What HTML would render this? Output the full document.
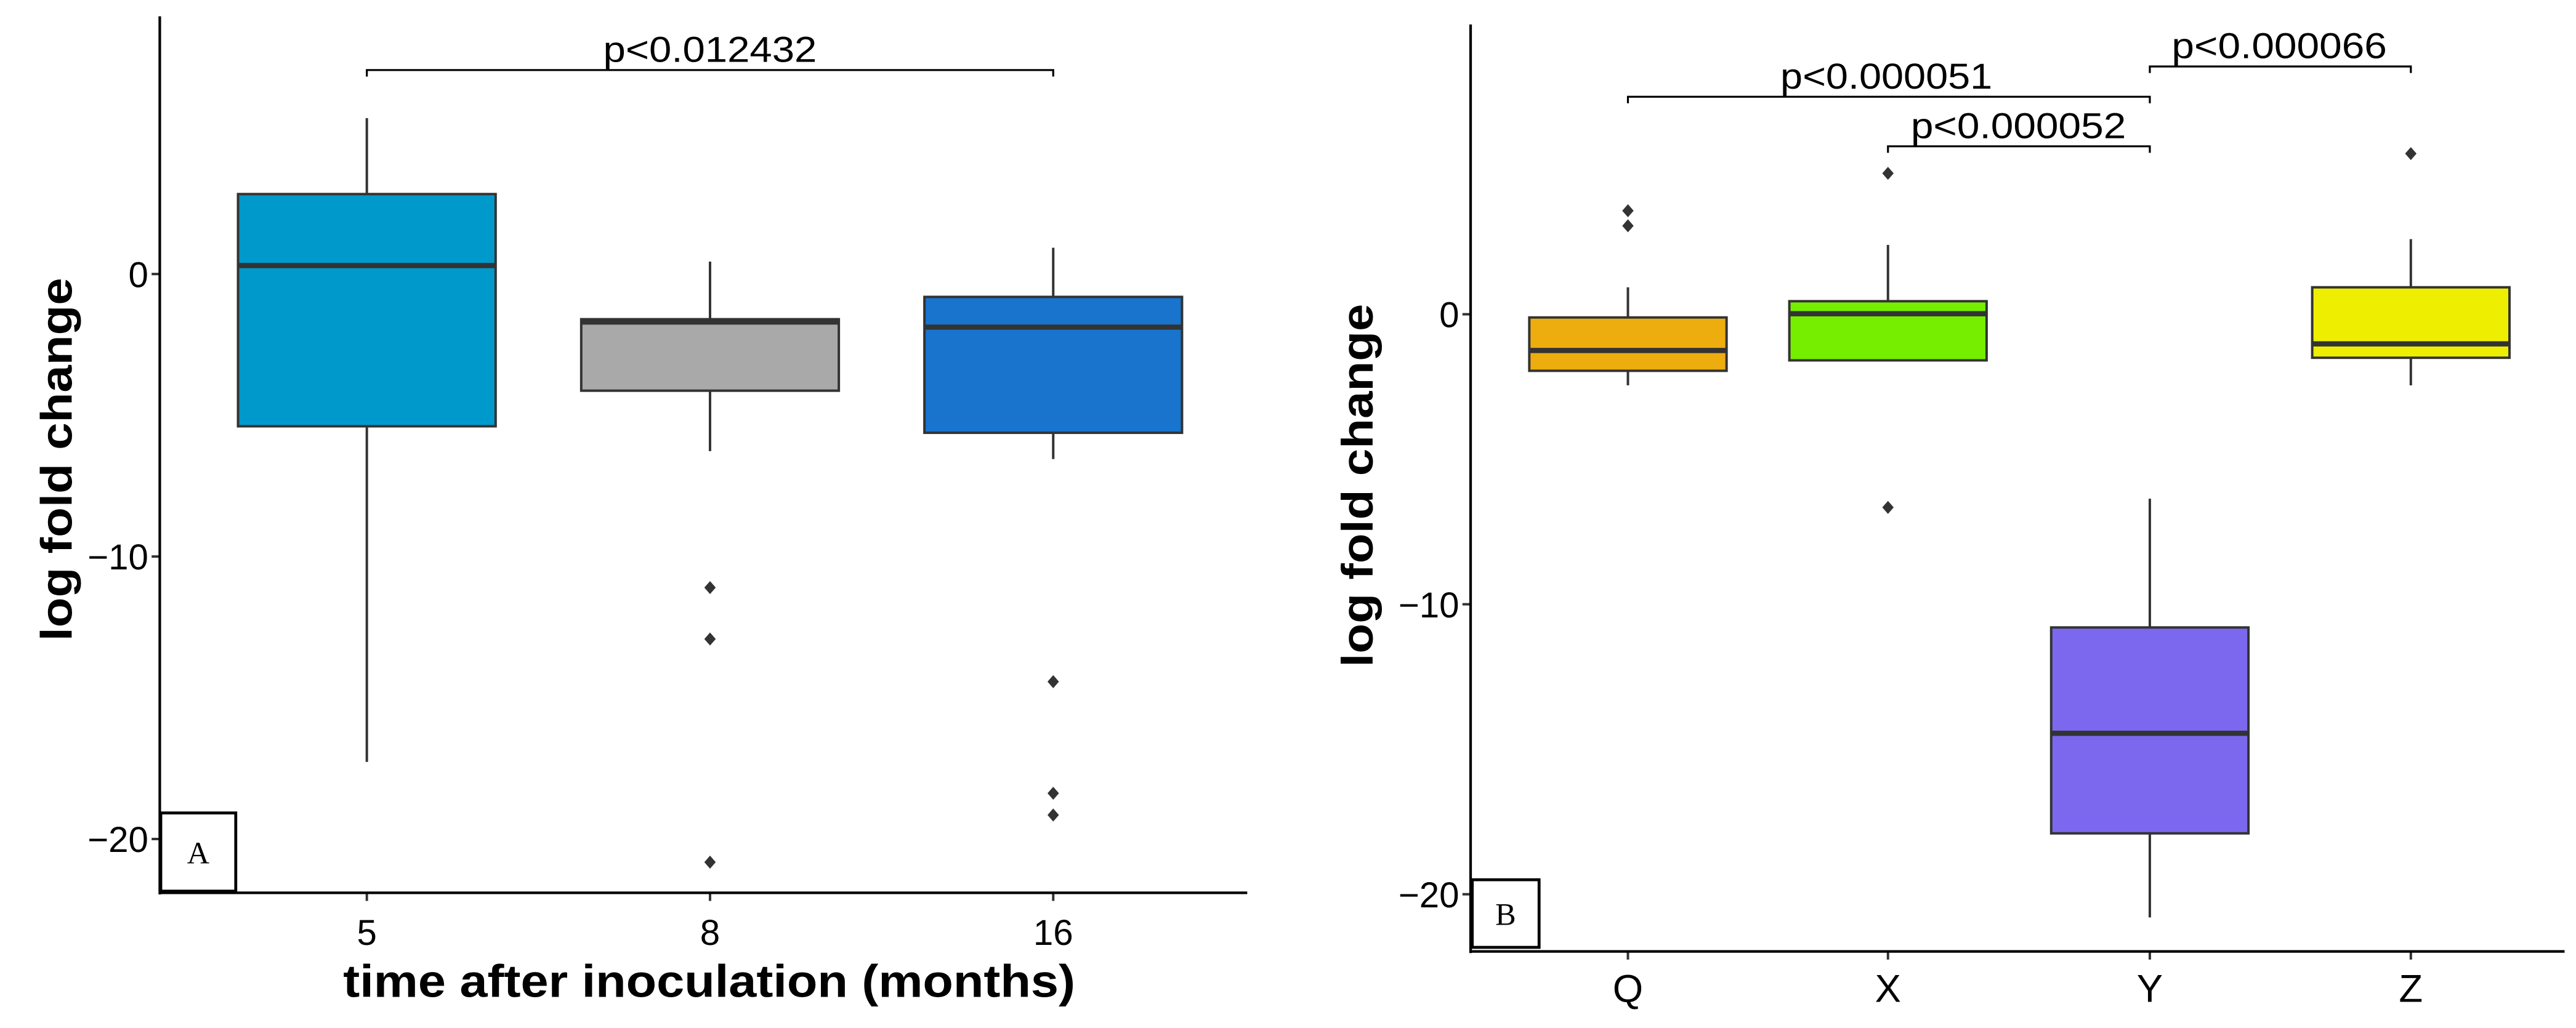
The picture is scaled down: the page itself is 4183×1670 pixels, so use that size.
<!DOCTYPE html>
<html><head><meta charset="utf-8"><style>
html,body{margin:0;padding:0;background:#fff;}
svg{display:block;}
text{font-family:"Liberation Sans",Arial,sans-serif;fill:#000;}
</style></head><body>
<svg id="fig" width="4183" height="1670" viewBox="0 0 1580 631" preserveAspectRatio="none" xmlns="http://www.w3.org/2000/svg"></svg>
<script>
// Panel A data
const catsA = ["5","8","16"];
const wLoA = [-17.27,-6.27,-6.55];
const q1A = [-5.39,-4.13,-5.62];
const medA = [0.3,-1.7,-1.88];
const q3A = [2.83,-1.6,-0.81];
const wHiA = [5.52,0.44,0.93];
const outA = [[],[-11.1,-12.92,-20.82],[-14.43,-18.38,-19.15]];
const colA = ["#0099CC","#A9A9A9","#1874CD"];
const ticksA = [0,-10,-20];
// Panel B data
const catsB = ["Q","X","Y","Z"];
const wLoB = [-2.45,-1.59,-20.8,-2.45];
const q1B = [-1.95,-1.59,-17.9,-1.5];
const medB = [-1.25,0.02,-14.45,-1.02];
const q3B = [-0.11,0.45,-10.8,0.93];
const wHiB = [0.93,2.39,-6.36,2.59];
const outB = [[3.57,3.05],[4.86,-6.66],[],[5.54]];
const colB = ["#EEAD0E","#76EE00","#7B68EE","#EEEE00"];
const ticksB = [0,-10,-20];

const NS="http://www.w3.org/2000/svg";
const svg=document.getElementById('fig');
function mk(tag,attrs,parent){const e=document.createElementNS(NS,tag);for(const k in attrs)e.setAttribute(k,attrs[k]);(parent||svg).appendChild(e);return e;}

function panel(p){
  const g=mk('g',{});
  
  
  const y=v=>p.y0-v*p.ppu;
  const x=i=>p.cx[i];
  p.cats.forEach((c,i)=>{
    const bg=mk('g',{},g);
    
    
    mk('line',{x1:x(i),x2:x(i),y1:y(p.wHi[i]),y2:y(p.q3[i]),stroke:'#333','stroke-width':1.5},bg);
    mk('line',{x1:x(i),x2:x(i),y1:y(p.q1[i]),y2:y(p.wLo[i]),stroke:'#333','stroke-width':1.5},bg);
    mk('rect',{x:x(i)-p.bw/2,y:y(p.q3[i]),width:p.bw,height:y(p.q1[i])-y(p.q3[i]),fill:p.col[i],stroke:'#333','stroke-width':1.5},bg);
    mk('line',{x1:x(i)-p.bw/2,x2:x(i)+p.bw/2,y1:y(p.med[i]),y2:y(p.med[i]),stroke:'#333','stroke-width':3.2},bg);
    p.out[i].forEach(v=>{
      const d=mk('path',{d:`M${x(i)} ${y(v)-4}L${x(i)+3.5} ${y(v)}L${x(i)} ${y(v)+4}L${x(i)-3.5} ${y(v)}Z`,fill:'#333'},bg);
      
      
    });
    mk('line',{x1:x(i),x2:x(i),y1:p.xAxisY,y2:p.xAxisY+5,stroke:'#333','stroke-width':1.5},g);
    const t=mk('text',{x:x(i),y:p.xAxisY+p.xtOff,'text-anchor':'middle','font-size':p.xtSize},g);
    t.textContent=c;
    
    
  });
  p.ticks.forEach(v=>{
    mk('line',{x1:p.axisX-5,x2:p.axisX,y1:y(v),y2:y(v),stroke:'#333','stroke-width':1.5},g);
    const t=mk('text',{x:p.axisX-7,y:y(v)+8,'text-anchor':'end','font-size':22},g);
    t.textContent=v<0?'\u2212'+(-v):String(v);
    
    
  });
  const ya=mk('line',{x1:p.axisX,x2:p.axisX,y1:p.axisTop,y2:p.xAxisY+1,stroke:'#000','stroke-width':1.6},g);
  
  
  const xa=mk('line',{x1:p.axisX,x2:p.axisRight,y1:p.xAxisY,y2:p.xAxisY,stroke:'#000','stroke-width':1.6},g);
  
  
  p.brackets.forEach(b=>{
    const bg=mk('g',{},g);
    
    
    mk('path',{d:`M${x(b.a)} ${b.y+4}V${b.y}H${x(b.b)}V${b.y+4}`,fill:'none',stroke:'#000','stroke-width':1.2},bg);
    const t=mk('text',{x:b.tx,y:b.y-5,'text-anchor':'middle','font-size':22,textLength:b.tw,lengthAdjust:'spacingAndGlyphs'},bg);
    t.textContent=b.label;
    
    
  });
  const yt=mk('text',{x:0,y:0,transform:`translate(${p.ytX},${p.ytY}) rotate(-90)`,'text-anchor':'middle','font-size':27,'font-weight':'bold',textLength:223,lengthAdjust:'spacingAndGlyphs'},g);
  yt.textContent='log fold change';
  
  
  const lb=mk('g',{},g);
  
  
  mk('rect',{x:p.lab.x,y:p.lab.y,width:p.lab.w,height:p.lab.h,fill:'#fff',stroke:'#000','stroke-width':1.8},lb);
  const lt=mk('text',{x:p.lab.x+p.lab.w/2,y:p.lab.y+p.lab.h/2+7,'text-anchor':'middle','font-size':19,style:'font-family:"Liberation Serif",serif'},lb);
  lt.textContent=p.lab.t;
  return g;
}

const gA=panel({name:'panel-a',cats:catsA,wLo:wLoA,q1:q1A,med:medA,q3:q3A,wHi:wHiA,out:outA,col:colA,ticks:ticksA,
  y0:168.2,ppu:17.34,cx:[225,435.5,646],bw:158,axisX:98,axisTop:10,axisRight:765,xAxisY:548,xtOff:32,xtSize:22,
  brackets:[{a:0,b:2,y:43,label:'p<0.012432',tx:435.5,tw:131}],
  ytX:44,ytY:282,lab:{x:98.6,y:499,w:46,h:48,t:'A'}});
const xt=mk('text',{x:435,y:612,'text-anchor':'middle','font-size':28,'font-weight':'bold',textLength:449,lengthAdjust:'spacingAndGlyphs'},gA);
xt.textContent='time after inoculation (months)';



panel({name:'panel-b',cats:catsB,wLo:wLoB,q1:q1B,med:medB,q3:q3B,wHi:wHiB,out:outB,col:colB,ticks:ticksB,
  y0:192.9,ppu:17.8,cx:[998.5,1158,1318.6,1478.7],bw:121,axisX:902,axisTop:15,axisRight:1573,xAxisY:584,xtOff:31,xtSize:24,
  brackets:[{a:0,b:2,y:59.4,label:'p<0.000051',tx:1157,tw:130},{a:1,b:2,y:89.8,label:'p<0.000052',tx:1238,tw:132},{a:2,b:3,y:40.8,label:'p<0.000066',tx:1398,tw:132}],
  ytX:842,ytY:298,lab:{x:903,y:540,w:41,h:41.5,t:'B'}});
</script>
</body></html>
